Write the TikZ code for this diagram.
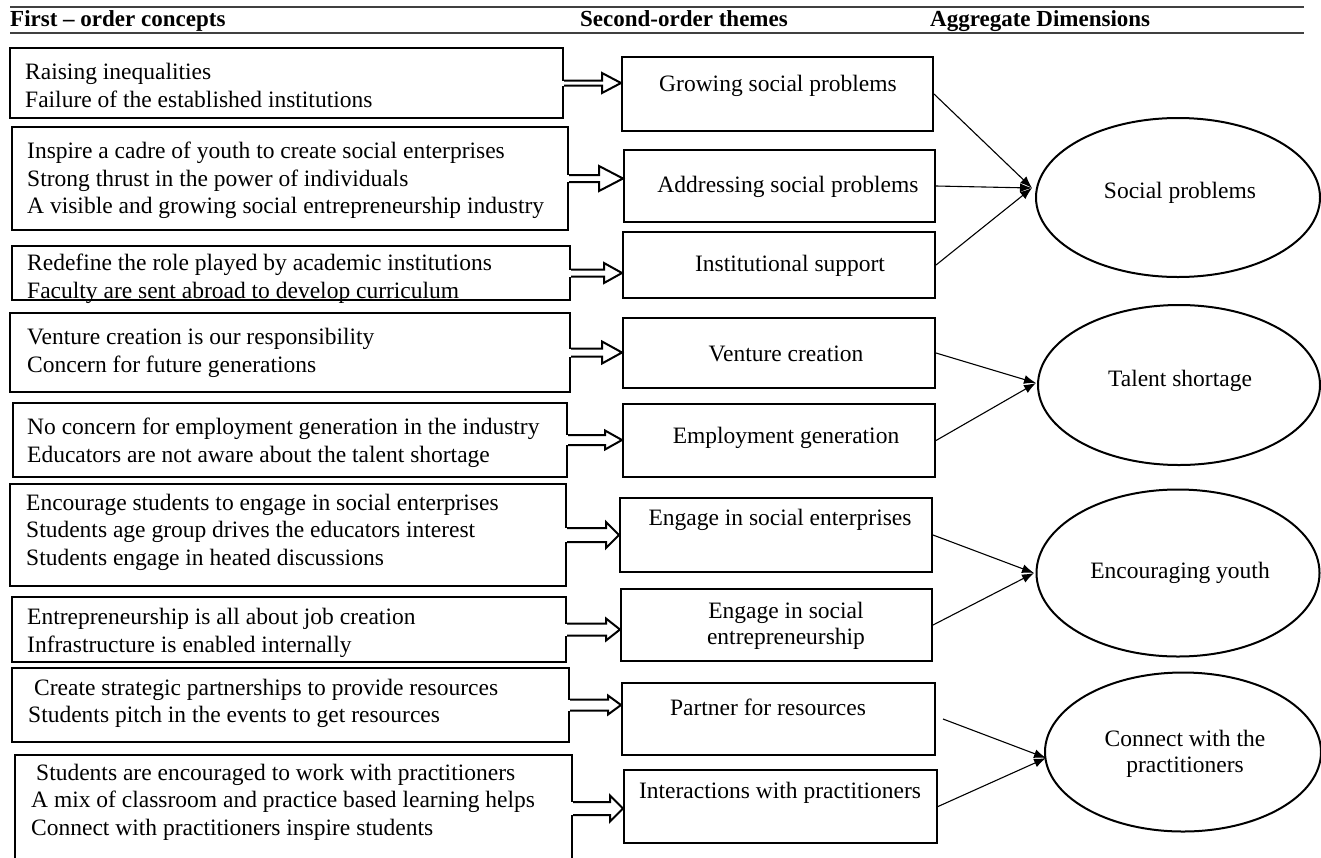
\documentclass[tikz,border=0pt]{standalone}
\usepackage{fontspec}
\setmainfont{Liberation Serif}
\usetikzlibrary{calc,shapes.geometric,arrows.meta}
\newcommand\mkbox[5]{\node[fbox, minimum width={(#4)-(#2)}, minimum height={(#5)-(#3)}] (#1) at ({((#2)+(#4))/2},{((#3)+(#5))/2}) {};}
\newcommand\mkarrow[5]{%
  \fill[white] let \p1=(#1.east) in (\x1-1.6pt,\y1-#3pt) rectangle (\x1+1.6pt,\y1+#3pt);
  \draw[harrow] let \p1=(#1.east), \p2=(#2.west) in
    (\x1,\y1-#3pt) -- (\x2-#5pt,\y1-#3pt) -- (\x2-#5pt,\y1-#4pt) -- (\x2,\y1)
    -- (\x2-#5pt,\y1+#4pt) -- (\x2-#5pt,\y1+#3pt) -- (\x1,\y1+#3pt);}
\begin{document}
\begin{tikzpicture}[x=1pt,y=-1pt,
  fbox/.style={draw, line width=2pt, inner sep=0pt, rectangle},
  ftext/.style={inner sep=0pt, align=left, anchor=west, font=\fontsize{23.5}{27.5}\selectfont},
  stext/.style={inner sep=0pt, align=center, font=\fontsize{23.5}{26.5}\selectfont},
  dim/.style={draw, line width=2pt, ellipse, inner sep=0pt},
  link/.style={line width=1.1pt, -{Latex[length=12pt,width=9pt]}},
  harrow/.style={line width=2pt, line join=miter},
  hdr/.style={font=\bfseries\fontsize{23}{26}\selectfont, inner sep=0pt, anchor=base west},
  hline/.style={line width=1.6pt, black!75}]
\clip (0,0) rectangle (1321,857);
% header
\draw[hline] (10,7) -- (1304,7);
\draw[hline] (10,33) -- (1304,33);
\node[hdr] (h1) at (10,26) {First -- order concepts};
\node[hdr] (h2) at (580,26) {Second-order themes};
\node[hdr] (h3) at (930,26) {Aggregate Dimensions};
% first-order boxes
\mkbox{f1}{10}{48}{563}{118}
\mkbox{f2}{12}{127}{568}{230}
\mkbox{f3}{12}{246}{570}{300}
\mkbox{f4}{10}{313}{570}{392}
\mkbox{f5}{13}{403}{567}{477}
\mkbox{f6}{10}{484}{566}{586}
\mkbox{f7}{12}{597}{566}{662}
\mkbox{f8}{12}{668}{569}{742}
\mkbox{f9}{15}{755}{572}{862}
\node[ftext] (f1t) at (25,85.5) {Raising inequalities\\Failure of the established institutions};
\node[ftext] (f2t) at (27,180.5) {Inspire a cadre of youth to create social enterprises\\Strong thrust in the power of individuals\\A visible and growing social entrepreneurship industry};
\node[ftext] (f3t) at (27,279) {Redefine the role played by academic institutions\\Faculty are sent abroad to develop curriculum};
\node[ftext] (f4t) at (27,353) {Venture creation is our responsibility\\Concern for future generations};
\node[ftext] (f5t) at (27,443) {No concern for employment generation in the industry\\Educators are not aware about the talent shortage};
\node[ftext] (f6t) at (26,532) {Encourage students to engage in social enterprises\\Students age group drives the educators interest\\Students engage in heated discussions};
\node[ftext] (f7t) at (27,633) {Entrepreneurship is all about job creation\\Infrastructure is enabled internally};
\node[ftext] (f8t) at (28,703.5) {\hspace*{6pt}Create strategic partnerships to provide resources\\Students pitch in the events to get resources};
\node[ftext] (f9t) at (31,802) {\hspace*{5pt}Students are encouraged to work with practitioners\\A mix of classroom and practice based learning helps\\Connect with practitioners inspire students};
% second-order boxes
\mkbox{s1}{622}{57}{933}{131}
\mkbox{s2}{624}{150}{935}{222}
\mkbox{s3}{623}{232}{935}{298}
\mkbox{s4}{623}{318}{935}{388}
\mkbox{s5}{623}{404}{935}{477}
\mkbox{s6}{620}{498}{932}{572}
\mkbox{s7}{621}{589}{932}{661}
\mkbox{s8}{622}{683}{935}{755}
\mkbox{s9}{624}{770}{937}{843}
\node[stext] (s1t) at (778,86) {Growing social problems};
\node[stext] (s2t) at (788,187) {Addressing social problems};
\node[stext] (s3t) at (790,266) {Institutional support};
\node[stext] (s4t) at (786,354) {Venture creation};
\node[stext] (s5t) at (786,438) {Employment generation};
\node[stext] (s6t) at (780,520) {Engage in social enterprises};
\node[stext] (s7t) at (786,626) {Engage in social\\entrepreneurship};
\node[stext] (s8t) at (768,707) {Partner for resources};
\node[stext] (s9t) at (780,793) {Interactions with practitioners};
% hollow arrows
\mkarrow{f1}{s1}{2.5}{10}{19}
\mkarrow{f2}{s2}{3.5}{12.5}{24}
\mkarrow{f3}{s3}{3.5}{10}{18}
\mkarrow{f4}{s4}{4}{11}{20}
\mkarrow{f5}{s5}{5}{9.5}{17}
\mkarrow{f6}{s6}{7}{13}{13}
\mkarrow{f7}{s7}{6}{11}{14}
\mkarrow{f8}{s8}{5.5}{9.5}{13}
\mkarrow{f9}{s9}{6.5}{13}{13}
% aggregate dimensions
\node[dim, minimum width=284, minimum height=159] (e1) at (1178,197.5) {};
\node[dim, minimum width=282, minimum height=160] (e2) at (1179,385) {};
\node[dim, minimum width=283, minimum height=167] (e3) at (1178,573) {};
\node[dim, minimum width=276, minimum height=159] (e4) at (1183,752) {};
\node[stext] (e1t) at (1180,193) {Social problems};
\node[stext] (e2t) at (1180,381) {Talent shortage};
\node[stext] (e3t) at (1180,573) {Encouraging youth};
\node[stext] (e4t) at (1185,754) {Connect with the\\practitioners};
\coordinate (t1) at ($(e1.west)+(-3,-9.5)$);
\coordinate (t2) at ($(e2.west)+(-1,-2)$);
\coordinate (t3) at ($(e3.west)+(-1.5,0)$);
\coordinate (t4) at ($(e4.west)+(2,6)$);
\draw[link] (s1.east) -- (t1);
\draw[link] (s2.east) -- (t1);
\draw[link] (s3.east) -- (t1);
\draw[link] (s4.east) -- (t2);
\draw[link] (s5.east) -- (t2);
\draw[link] (s6.east) -- (t3);
\draw[link] (s7.east) -- (t3);
\draw[link] ($(s8.east)+(7,0)$) -- (t4);
\draw[link] (s9.east) -- (t4);
\end{tikzpicture}
\end{document}
